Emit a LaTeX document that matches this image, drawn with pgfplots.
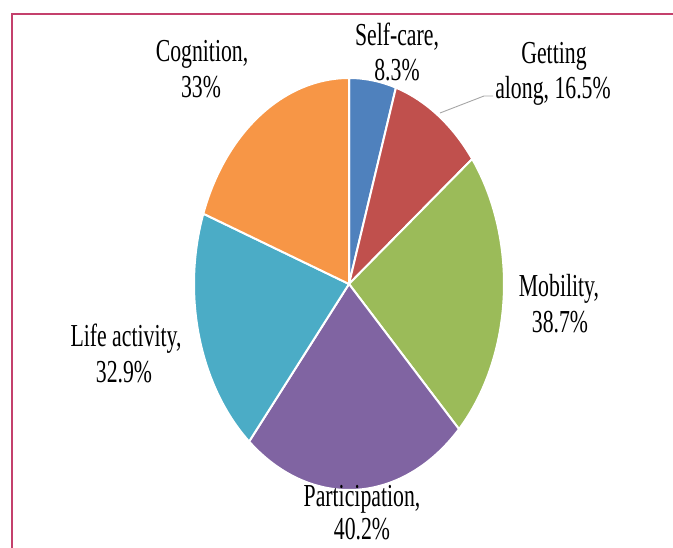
\documentclass[border=0pt]{standalone}
\usepackage{pgfplots}
\pgfplotsset{compat=1.18}
\usepackage{fontspec}
\setmainfont{Liberation Serif}[FakeStretch=0.68]
\definecolor{cSelf}{HTML}{4F81BD}
\definecolor{cGet}{HTML}{C0504D}
\definecolor{cMob}{HTML}{9BBB59}
\definecolor{cPart}{HTML}{8064A2}
\definecolor{cLife}{HTML}{4BACC6}
\definecolor{cCog}{HTML}{F79646}
\definecolor{frame}{HTML}{C4406C}
\tikzset{lbl/.style={font=\fontsize{32}{36}\selectfont, text=black, inner sep=0pt, anchor=base}}
\begin{document}
\begin{tikzpicture}
% values, clockwise from the top
\def\vA{8.3}\def\vB{16.5}\def\vC{38.7}\def\vD{40.2}\def\vE{32.9}\def\vF{33}
\pgfmathsetmacro\T{\vA+\vB+\vC+\vD+\vE+\vF}
\pgfmathsetmacro\aA{90}
\pgfmathsetmacro\aB{\aA-360*\vA/\T}
\pgfmathsetmacro\aC{\aB-360*\vB/\T}
\pgfmathsetmacro\aD{\aC-360*\vC/\T}
\pgfmathsetmacro\aE{\aD-360*\vD/\T}
\pgfmathsetmacro\aF{\aE-360*\vE/\T}
\pgfmathsetmacro\aG{\aF-360*\vF/\T}
\useasboundingbox (0,0) rectangle (673pt,548pt);
\begin{axis}[
  width=673pt, height=548pt, scale only axis,
  xmin=0, xmax=673, ymin=0, ymax=548,
  hide axis, clip=false,
]
\pgfplotsset{sl/.style={draw=white, line width=2pt, samples=90, smooth, variable=\t}}
\addplot[sl, fill=cSelf, domain=\aB:\aA] ({349+155*cos(t)},{264+206*sin(t)}) -- (axis cs:349,264) -- cycle;
\addplot[sl, fill=cGet, domain=\aC:\aB] ({349+155*cos(t)},{264+206*sin(t)}) -- (axis cs:349,264) -- cycle;
\addplot[sl, fill=cMob, domain=\aD:\aC] ({349+155*cos(t)},{264+206*sin(t)}) -- (axis cs:349,264) -- cycle;
\addplot[sl, fill=cPart, domain=\aE:\aD] ({349+155*cos(t)},{264+206*sin(t)}) -- (axis cs:349,264) -- cycle;
\addplot[sl, fill=cLife, domain=\aF:\aE] ({349+155*cos(t)},{264+206*sin(t)}) -- (axis cs:349,264) -- cycle;
\addplot[sl, fill=cCog, domain=\aG:\aF] ({349+155*cos(t)},{264+206*sin(t)}) -- (axis cs:349,264) -- cycle;
% leader line
\draw[black!35, line width=0.9pt] (axis cs:440,435) -- (axis cs:484,452) -- (axis cs:493,452);
% labels (one node per line, at its baseline)
\node[lbl] at (axis cs:397,502) {Self-care,};
\node[lbl] at (axis cs:397,467) {8.3\%};
\node[lbl] at (axis cs:554,484) {Getting};
\node[lbl] at (axis cs:553,449) {along, 16.5\%};
\node[lbl] at (axis cs:202,486) {Cognition,};
\node[lbl] at (axis cs:201,450) {33\%};
\node[lbl] at (axis cs:559,251) {Mobility,};
\node[lbl] at (axis cs:560,215) {38.7\%};
\node[lbl] at (axis cs:126,201) {Life activity,};
\node[lbl] at (axis cs:124,165) {32.9\%};
\node[lbl] at (axis cs:362,41) {Participation,};
\node[lbl] at (axis cs:362,8) {40.2\%};
% frame
\draw[frame, line width=2.2pt] (axis cs:12,0) -- (axis cs:12,534) -- (axis cs:673,534);
\end{axis}
\end{tikzpicture}
\end{document}
